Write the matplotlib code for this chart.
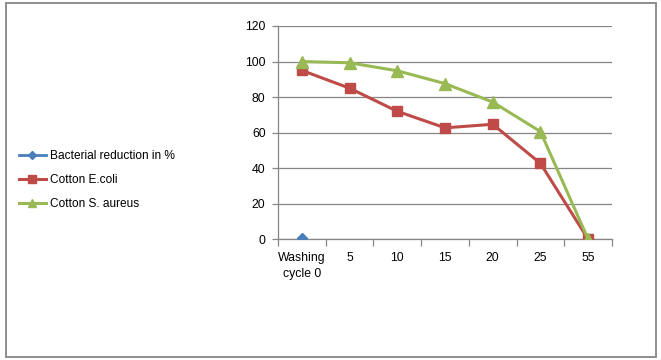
import matplotlib
matplotlib.use("Agg")
import matplotlib.pyplot as plt
import numpy as np

plt.rcParams['font.family'] = ['Liberation Sans', 'DejaVu Sans']

# Data
categories = ["Washing\ncycle 0", "5", "10", "15", "20", "25", "55"]
bacterial_reduction = [1, None, None, None, None, None, None]
ecoli = [95, 85, 72, 62.7, 64.7, 42.7, 0]
s_aureus = [100, 99.3, 94.8, 87.6, 77.2, 60.6, 0]

x = np.arange(len(categories))

fig = plt.figure(figsize=(6.61, 3.6), dpi=100)
ax = fig.add_axes([0.4206, 0.3353, 0.5053, 0.5925])

# outer frame like the Excel chart area
fig.patches.append(plt.Rectangle((6 / 661, 3 / 360), 650 / 661, 354 / 360,
                                 transform=fig.transFigure, fill=False,
                                 edgecolor='#868686', linewidth=1.3))

br = np.array([np.nan if v is None else v for v in bacterial_reduction], dtype=float)
ax.plot(x, br, color='#4A7EBB', marker='D', markersize=5, linewidth=2,
        label="Bacterial reduction in %", zorder=3)
ax.plot(x, ecoli, color='#BE4B48', marker='s', markersize=7, linewidth=2.2,
        label="Cotton E.coli", zorder=3)
ax.plot(x, s_aureus, color='#98B954', marker='^', markersize=8, linewidth=2.2,
        label="Cotton S. aureus", zorder=4)

ax.set_xlim(-0.5, len(categories) - 0.5)
ax.set_ylim(0, 120)
ax.set_yticks(np.arange(0, 121, 20))
ax.yaxis.grid(True, color='#868686', linewidth=0.9)
ax.set_axisbelow(True)

ax.set_xticks(x)
ax.set_xticklabels(categories, fontsize=8.8, linespacing=1.45)
ax.set_xticks(np.arange(-0.5, len(categories)), minor=True)
ax.tick_params(axis='x', which='major', length=0, pad=9)
ax.tick_params(axis='x', which='minor', length=5, color='#868686', width=0.9)
ax.tick_params(axis='y', length=4, color='#868686', width=0.9, labelsize=8.8, pad=5)

for s in ['top', 'right']:
    ax.spines[s].set_visible(False)
ax.spines['left'].set_color('#868686')
ax.spines['bottom'].set_color('#868686')
ax.spines['left'].set_linewidth(0.9)
ax.spines['bottom'].set_linewidth(0.9)

fig.legend(loc='center left', bbox_to_anchor=(0.012, 0.5), frameon=False,
           fontsize=8.6, handlelength=2.3, handletextpad=0.3, labelspacing=1.0,
           markerscale=0.75)

fig.savefig("out.png", dpi=100)
